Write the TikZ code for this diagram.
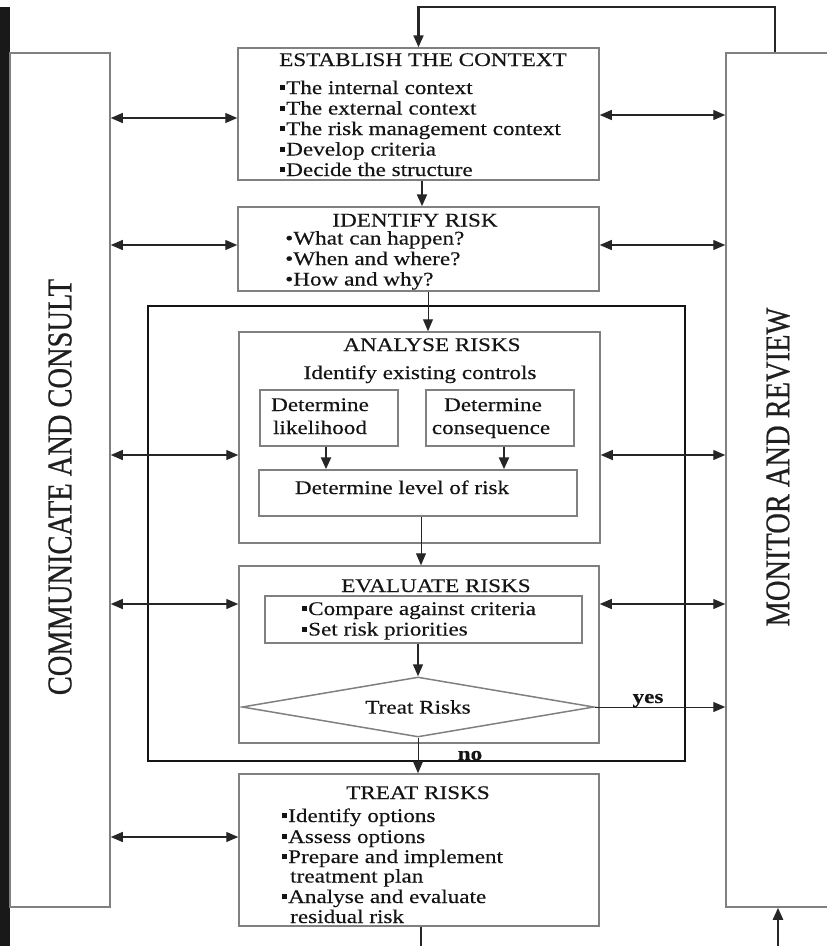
\documentclass[tikz,border=0pt]{standalone}
\usepackage{fontspec}
\setmainfont{Liberation Serif}[FakeStretch=1.2, FakeBold=0.35]
\newfontfamily\sidefont{Liberation Serif}[FakeStretch=0.82, FakeBold=0.6]
\usetikzlibrary{arrows.meta,shapes.geometric}
% small square bullet
\newcommand\sqb{\rule[3.8pt]{4.8pt}{4.8pt}\hspace{1.2pt}}
\begin{document}
\begin{tikzpicture}[x=1pt, y=-1pt,
  box/.style={draw=black!50, line width=1.5pt, inner sep=0pt},
  outerframe/.style={draw=black!92, line width=2.6pt, inner sep=0pt},
  txt/.style={inner sep=0pt, text=black!92, font=\fontsize{19.3}{20.5}\selectfont, anchor=base},
  item/.style={txt, anchor=base west},
  sidelabel/.style={inner sep=0pt, rotate=90, text=black!88, font=\sidefont\fontsize{34.7}{36}\selectfont},
  link/.style={draw=black!85, line width=1.3pt},
  dbl/.style={link, {Triangle[length=12pt,width=10pt]}-{Triangle[length=12pt,width=10pt]}},
  fwd/.style={link, -{Triangle[length=12pt,width=10pt]}},
  heavy/.style={fwd, line width=2.5pt}]
\useasboundingbox (0,0) rectangle (827,946);
\clip (0,0) rectangle (827,946);

% side rule
\fill[black!90] (0,7) rectangle (10,946);

% side panels
\node[box, minimum width=100pt, minimum height=854pt] (cc) at (60,480) {};
\node[box, minimum width=104pt, minimum height=854pt] (mr) at (778,480) {};
\node[sidelabel] (cct) at (60,487) {COMMUNICATE AND CONSULT};
\node[sidelabel] (mrt) at (778,467) {MONITOR AND REVIEW};

% risk assessment frame
\node[outerframe, minimum width=537pt, minimum height=455pt] (fr) at (416.5,533.5) {};

% establish the context
\node[box, minimum width=361pt, minimum height=132pt] (est) at (418.5,114) {};
\node[txt] (estt) at (423,66) {ESTABLISH THE CONTEXT};
\foreach \t [count=\i] in {The internal context, The external context,
    The risk management context, Develop criteria, Decide the structure}
  \node[item] (est\i) at (280,{94+20.5*(\i-1)}) {\sqb\t};

% identify risk
\node[box, minimum width=361pt, minimum height=84pt] (idr) at (418.5,249) {};
\node[txt] (idrt) at (415,226.5) {IDENTIFY RISK};
\foreach \t [count=\i] in {What can happen?, When and where?, How and why?}
  \node[item] (idr\i) at (285,{244.5+20.5*(\i-1)}) {•\t};

% analyse risks
\node[box, minimum width=361pt, minimum height=211pt] (an) at (419.5,437.5) {};
\node[txt] (ant) at (432,351) {ANALYSE RISKS};
\node[txt] (ant2) at (420,379) {Identify existing controls};
\node[box, minimum width=138pt, minimum height=56pt] (lik) at (329,418) {};
\node[txt] (lik1) at (320,411) {Determine};
\node[txt] (lik2) at (320,434) {likelihood};
\node[box, minimum width=148pt, minimum height=56pt] (con) at (500,418) {};
\node[txt] (con1) at (493,411) {Determine};
\node[txt] (con2) at (491,434) {consequence};
\node[box, minimum width=318pt, minimum height=46pt] (lev) at (418,493) {};
\node[txt] (levt) at (402,494) {Determine level of risk};

% evaluate risks
\node[box, minimum width=360pt, minimum height=177pt] (ev) at (419,654.5) {};
\node[txt] (evt) at (436,592) {EVALUATE RISKS};
\node[box, minimum width=317pt, minimum height=47pt] (evc) at (423.5,619.5) {};
\node[item] (evc1) at (302,615) {\sqb Compare against criteria};
\node[item] (evc2) at (302,635.5) {\sqb Set risk priorities};
\node[box, diamond, aspect=5.85, minimum width=352pt, minimum height=60pt,
      txt, anchor=center] (dia) at (418,707) {Treat Risks};

% treat risks
\node[box, minimum width=360pt, minimum height=152pt] (tr) at (419,850) {};
\node[txt] (trt) at (418,799) {TREAT RISKS};
\node[item] (tr1) at (282,822) {\sqb Identify options};
\node[item] (tr2) at (282,843) {\sqb Assess options};
\node[item] (tr3) at (282,863) {\sqb Prepare and implement};
\node[item] (tr3b) at (290,882.5) {treatment plan};
\node[item] (tr4) at (282,903) {\sqb Analyse and evaluate};
\node[item] (tr4b) at (290,923) {residual risk};

% decision labels
\node[txt, font=\bfseries\fontsize{19.3}{20.5}\selectfont] (yes) at (648,703) {yes};
\node[txt, font=\bfseries\fontsize{19.3}{20.5}\selectfont] (no) at (470,760) {no};

% free ends leaving the page
\coordinate (trout) at (421,946);
\coordinate (mrin) at (778,946);

% main flow
\draw[heavy, line width=2.2pt] (mr.north -| 775,0) |- (est.north |- 0,7) -- (est.north);
\draw[heavy, line width=2.2pt] (est.south -| 422,0) -- (idr.north -| 422,0);
\draw[fwd, line width=1pt] (idr.south -| 428,0) -- (an.north -| 428,0);
\draw[heavy] (lik.south -| 326,0) -- (lev.north -| 326,0);
\draw[heavy] (con.south -| 504,0) -- (lev.north -| 504,0);
\draw[fwd, line width=1pt] (lev.south -| 421,0) -- (ev.north -| 421,0);
\draw[fwd, line width=1.5pt] (evc.south -| dia.north) -- (dia.north);
\draw[fwd, line width=1pt] (dia.south) -- (tr.north -| dia.south);
\draw[fwd, line width=1pt] (dia.east) -- (mr.west |- dia.east);
\draw[link, line width=2.2pt] (tr.south -| trout) -- (trout);
\draw[heavy, line width=2.2pt] (mrin) -- (mr.south);

% communication and monitoring links
\draw[dbl] (cc.east |- 0,118) -- (est.west |- 0,118);
\draw[dbl] (est.east |- 0,115) -- (mr.west |- 0,115);
\draw[dbl] (cc.east |- 0,245) -- (idr.west |- 0,245);
\draw[dbl] (idr.east |- 0,245) -- (mr.west |- 0,245);
\draw[dbl] (cc.east |- 0,455) -- (an.west |- 0,455);
\draw[dbl] (an.east |- 0,455) -- (mr.west |- 0,455);
\draw[dbl] (cc.east |- 0,604) -- (ev.west |- 0,604);
\draw[dbl] (ev.east |- 0,604) -- (mr.west |- 0,604);
\draw[dbl] (cc.east |- 0,837) -- (tr.west |- 0,837);
\end{tikzpicture}
\end{document}
